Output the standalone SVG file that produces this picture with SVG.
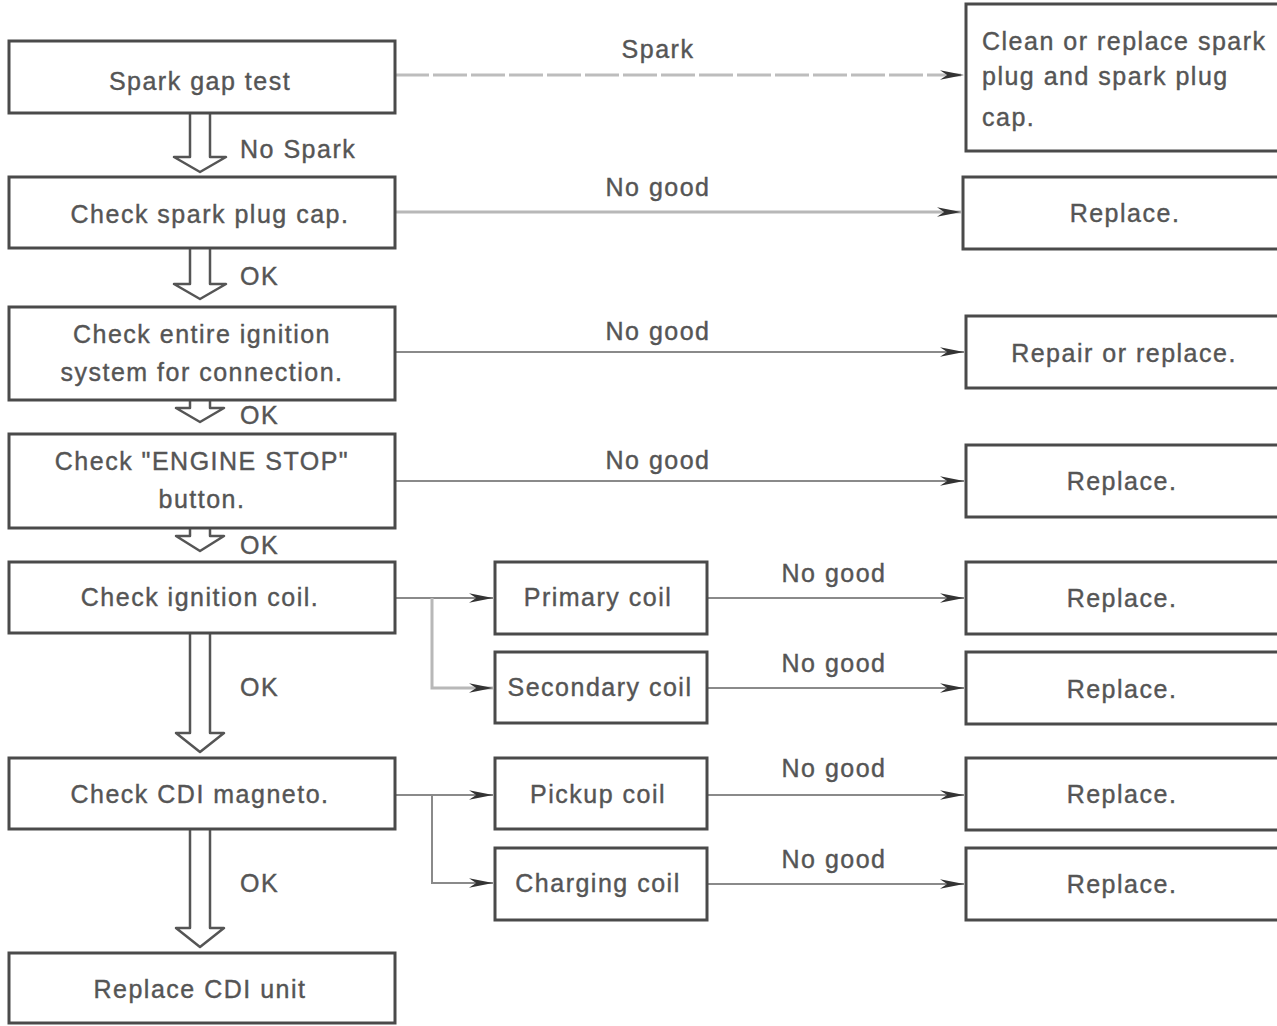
<svg xmlns="http://www.w3.org/2000/svg" width="1277" height="1026" viewBox="0 0 1277 1026">
  <style>
    .box { fill: #ffffff; stroke: #4a4a4a; stroke-width: 3; }
    .t { font-family: "Liberation Sans", Arial, sans-serif; font-size: 25px; letter-spacing: 1.5px; fill: #555555; stroke: #555555; stroke-width: 0.4; text-anchor: middle; dominant-baseline: central; }
    .tl { text-anchor: start; }
    .line { stroke: #8a8a8a; stroke-width: 2; fill: none; }
    .dash { stroke: #bdbdbd; stroke-width: 3; stroke-dasharray: 34 4; fill: none; }
    .pale { stroke: #b8b8b8; stroke-width: 3; fill: none; }
    .down { fill: #ffffff; stroke: #555555; stroke-width: 2.5; stroke-linejoin: round; }
  </style>
  <defs>
    <marker id="ah" viewBox="0 0 10 10" refX="10" refY="5" markerWidth="24" markerHeight="12" markerUnits="userSpaceOnUse" orient="auto" preserveAspectRatio="none">
      <path d="M0,1 L10,5 L0,9 L3,5 Z" fill="#333333"/>
    </marker>
  </defs>

  <rect width="1277" height="1026" fill="#ffffff"/>

  <!-- connectors -->
  <g id="connectors">
    <line class="dash" x1="395" y1="75" x2="964" y2="75" marker-end="url(#ah)"/>
    <line class="pale" x1="395" y1="212" x2="961" y2="212" marker-end="url(#ah)"/>
    <line class="line" x1="395" y1="352" x2="964" y2="352" marker-end="url(#ah)"/>
    <line class="line" x1="395" y1="481" x2="964" y2="481" marker-end="url(#ah)"/>

    <!-- ignition coil branches -->
    <line class="line" x1="395" y1="598" x2="493" y2="598" marker-end="url(#ah)"/>
    <polyline class="pale" points="432,598 432,688 493,688" marker-end="url(#ah)"/>
    <line class="line" x1="707" y1="598" x2="964" y2="598" marker-end="url(#ah)"/>
    <line class="line" x1="680" y1="688" x2="964" y2="688" marker-end="url(#ah)"/>

    <!-- CDI magneto branches -->
    <line class="line" x1="395" y1="795" x2="493" y2="795" marker-end="url(#ah)"/>
    <polyline class="line" points="432,795 432,883 493,883" marker-end="url(#ah)"/>
    <line class="line" x1="707" y1="795" x2="964" y2="795" marker-end="url(#ah)"/>
    <line class="line" x1="707" y1="884" x2="964" y2="884" marker-end="url(#ah)"/>

    <!-- hollow down arrows -->
    <path class="down" d="M190,113 V157 H174 L200,172 L226,157 H210 V113"/>
    <path class="down" d="M190,248 V284 H174 L200,299 L226,284 H210 V248"/>
    <path class="down" d="M190,400 V408 H176 L200,422 L224,408 H210 V400"/>
    <path class="down" d="M190,528 V536 H176 L200,551 L224,536 H210 V528"/>
    <path class="down" d="M190,633 V733 H176 L200,752 L224,733 H210 V633"/>
    <path class="down" d="M190,829 V928 H176 L200,947 L224,928 H210 V829"/>

    <text class="t" x="658" y="49">Spark</text>
    <text class="t" x="658" y="187">No good</text>
    <text class="t" x="658" y="331">No good</text>
    <text class="t" x="658" y="460">No good</text>
    <text class="t" x="834" y="573">No good</text>
    <text class="t" x="834" y="663">No good</text>
    <text class="t" x="834" y="768">No good</text>
    <text class="t" x="834" y="859">No good</text>

    <text class="t tl" x="240" y="149">No Spark</text>
    <text class="t tl" x="240" y="276">OK</text>
    <text class="t tl" x="240" y="415">OK</text>
    <text class="t tl" x="240" y="545">OK</text>
    <text class="t tl" x="240" y="687">OK</text>
    <text class="t tl" x="240" y="883">OK</text>
  </g>

  <!-- left column -->
  <g id="spark-gap-test">
    <rect class="box" x="9" y="41" width="386" height="72"/>
    <text class="t" x="200" y="81">Spark gap test</text>
  </g>
  <g id="check-plug-cap">
    <rect class="box" x="9" y="177" width="386" height="71"/>
    <text class="t" x="210" y="214">Check spark plug cap.</text>
  </g>
  <g id="check-ignition-system">
    <rect class="box" x="9" y="307" width="386" height="93"/>
    <text class="t" x="202" y="334">Check entire ignition</text>
    <text class="t" x="202" y="372">system for connection.</text>
  </g>
  <g id="check-engine-stop">
    <rect class="box" x="9" y="434" width="386" height="94"/>
    <text class="t" x="202" y="461">Check "ENGINE STOP"</text>
    <text class="t" x="202" y="499">button.</text>
  </g>
  <g id="check-ignition-coil">
    <rect class="box" x="9" y="562" width="386" height="71"/>
    <text class="t" x="200" y="597">Check ignition coil.</text>
  </g>
  <g id="check-cdi-magneto">
    <rect class="box" x="9" y="758" width="386" height="71"/>
    <text class="t" x="200" y="794">Check CDI magneto.</text>
  </g>
  <g id="replace-cdi-unit">
    <rect class="box" x="9" y="953" width="386" height="70"/>
    <text class="t" x="200" y="989">Replace CDI unit</text>
  </g>

  <!-- middle column -->
  <g id="primary-coil">
    <rect class="box" x="495" y="562" width="212" height="72"/>
    <text class="t" x="598" y="597">Primary coil</text>
  </g>
  <g id="secondary-coil">
    <rect class="box" x="495" y="652" width="212" height="71"/>
    <text class="t" x="600" y="687">Secondary coil</text>
  </g>
  <g id="pickup-coil">
    <rect class="box" x="495" y="758" width="212" height="71"/>
    <text class="t" x="598" y="794">Pickup coil</text>
  </g>
  <g id="charging-coil">
    <rect class="box" x="495" y="848" width="212" height="72"/>
    <text class="t" x="598" y="883">Charging coil</text>
  </g>

  <!-- right column -->
  <g id="clean-or-replace-plug">
    <rect class="box" x="966" y="4" width="320" height="147"/>
    <text class="t tl" x="982" y="41">Clean or replace spark</text>
    <text class="t tl" x="982" y="76">plug and spark plug</text>
    <text class="t tl" x="982" y="117">cap.</text>
  </g>
  <g id="replace-cap">
    <rect class="box" x="963" y="177" width="323" height="72"/>
    <text class="t" x="1125" y="213">Replace.</text>
  </g>
  <g id="repair-or-replace">
    <rect class="box" x="966" y="316" width="320" height="72"/>
    <text class="t" x="1124" y="353">Repair or replace.</text>
  </g>
  <g id="replace-stop-button">
    <rect class="box" x="966" y="445" width="320" height="72"/>
    <text class="t" x="1122" y="481">Replace.</text>
  </g>
  <g id="replace-primary">
    <rect class="box" x="966" y="562" width="320" height="72"/>
    <text class="t" x="1122" y="598">Replace.</text>
  </g>
  <g id="replace-secondary">
    <rect class="box" x="966" y="652" width="320" height="72"/>
    <text class="t" x="1122" y="689">Replace.</text>
  </g>
  <g id="replace-pickup">
    <rect class="box" x="966" y="758" width="320" height="72"/>
    <text class="t" x="1122" y="794">Replace.</text>
  </g>
  <g id="replace-charging">
    <rect class="box" x="966" y="848" width="320" height="72"/>
    <text class="t" x="1122" y="884">Replace.</text>
  </g>
</svg>
